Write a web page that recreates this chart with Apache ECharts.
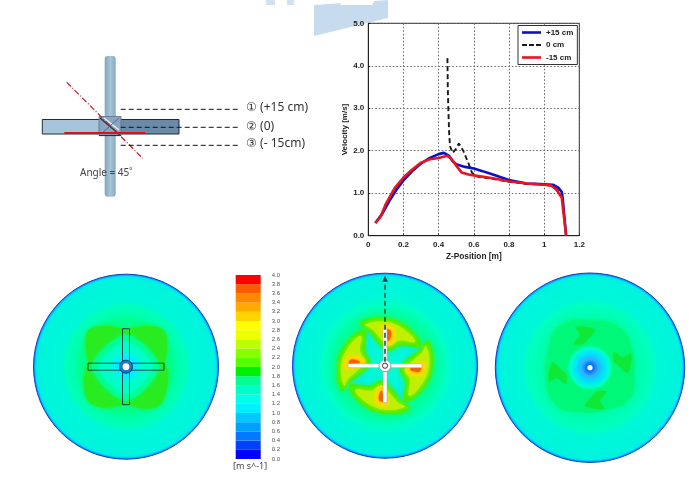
<!DOCTYPE html>
<html>
<head>
<meta charset="utf-8">
<style>html,body{margin:0;padding:0;background:#fff}#c{width:696px;height:502px}</style>
<script src="https://cdn.jsdelivr.net/npm/echarts@6/dist/echarts.min.js"></script>
</head>
<body>
<div id="c"></div>
<script>
// Velocity profiles: [Z-position (m), velocity (m/s)]
const plus15 = [[0.04,0.3],[0.08,0.52],[0.12,0.82],[0.16,1.08],[0.2,1.3],[0.25,1.52],[0.3,1.7],[0.35,1.83],[0.4,1.92],[0.43,1.95],[0.46,1.88],[0.48,1.75],[0.5,1.68],[0.55,1.62],[0.6,1.58],[0.65,1.52],[0.7,1.45],[0.75,1.38],[0.8,1.31],[0.85,1.27],[0.9,1.23],[0.95,1.22],[1.0,1.21],[1.05,1.2],[1.08,1.13],[1.1,1.03],[1.105,0.9],[1.125,0.0]];
const zero = [[0.45,4.18],[0.452,3.5],[0.455,3.0],[0.46,2.4],[0.465,2.1],[0.48,1.95],[0.5,2.05],[0.515,2.17],[0.54,2.0],[0.57,1.7],[0.59,1.48],[0.62,1.39],[0.7,1.34],[0.8,1.27],[0.9,1.22],[1.0,1.2],[1.05,1.17],[1.08,1.05],[1.1,0.9]];
const minus15 = [[0.04,0.3],[0.07,0.45],[0.1,0.75],[0.15,1.12],[0.2,1.37],[0.25,1.56],[0.3,1.72],[0.35,1.8],[0.4,1.83],[0.45,1.88],[0.47,1.82],[0.5,1.65],[0.53,1.49],[0.57,1.44],[0.6,1.42],[0.7,1.36],[0.8,1.28],[0.9,1.23],[1.0,1.2],[1.04,1.18],[1.07,1.08],[1.1,0.9],[1.125,0.0]];
const seriesNames = ['+15 cm', '0 cm', '-15 cm'];
// Colour scale bands, 0.0 upward in 0.2 m/s steps
const bandStep = 0.2;
const bandColors = ['#0000ff','#0040ff','#0078ff','#00a0ff','#00c8ff','#00f0ff','#00ffe8','#00ffc8','#00ff90','#00f000','#55ff00','#88ff00','#bbff00','#eeff00','#ffff00','#ffd500','#ffaa00','#ff8800','#ff5a00','#ff0000'];
// Schematic labels
const stationLabels = ['\u2460 (+15 cm)', '\u2461 (0)', '\u2462 (- 15cm)'];

const F = '"Liberation Sans", Arial, sans-serif';
const G = echarts.graphic;
const disc = (cx, cy, r, stops, stroke) => ({type:'circle', silent:true, shape:{cx, cy, r},
  style:{fill:new G.RadialGradient(0.5,0.5,0.5,stops.map(s=>({offset:s[0],color:s[1]}))),stroke:stroke||null,lineWidth:stroke?1:0}});
const rot = (p,k)=>{let [x,y]=p;for(let i=0;i<k;i++){[x,y]=[-y,x];}return [x,y];};
const blob = (cx,cy,pts,fill,k=0,blur=2,smooth=0.5)=>({type:'polygon',silent:true,
  shape:{points:pts.map(p=>{const q=rot(p,k);return [cx+q[0],cy+q[1]];}),smooth},
  style:{fill,shadowBlur:blur,shadowColor:fill}});
const four = (cx,cy,pts,fill,blur,smooth)=>[0,1,2,3].map(k=>blob(cx,cy,pts,fill,k,blur,smooth));
const rect = (x,y,w,h,style)=>({type:'rect',silent:true,shape:{x,y,width:w,height:h},style});
const line = (x1,y1,x2,y2,stroke,lineWidth,lineDash)=>({type:'line',silent:true,shape:{x1,y1,x2,y2},style:{stroke,lineWidth,lineDash}});
const txt = (x,y,text,fontSize,fill,extra={})=>({type:'text',silent:true,x,y,style:Object.assign({text,fontSize,fill,fontFamily:'"Noto Sans", sans-serif',verticalAlign:'middle'},extra)});

const rim = [[0.97,'#00e4fa'],[0.99,'#0098f0'],[1,'#0038c8']];
const ringStroke='#1040c0';
// --- disc 1
const c1=[126,366.7], R1=92.5;
const lobes1=[[-38,-36],[-20,-41],[-3,-38],[3,-38],[20,-41],[38,-36],[41,-18],[39,-2],[42,3],[41,20],[34,38],[18,42],[3,38],[-4,38],[-22,41],[-38,34],[-42,15],[-40,3],[-38,-3],[-40,-18]];
const diamond1=[[0,-25],[26,0],[0,27],[-27,0]];
const bladeV=(c,l,w,s)=>rect(c[0]-w/2,c[1]-l,w,2*l,s);
const bladeH=(c,l,w,s)=>rect(c[0]-l,c[1]-w/2,2*l,w,s);
const disc1=[
  disc(c1[0],c1[1],R1,[[0,'#00ff90'],[0.5,'#00ff90'],[0.58,'#00ffb4'],[0.64,'#00ffb8'],[0.7,'#00f8d8'],[0.95,'#00f4dc'],...rim],ringStroke),
  blob(c1[0],c1[1],lobes1,'#28ec20',0,4,0.35),
  blob(c1[0],c1[1],[[0,-32],[33,0],[0,34],[-34,0]],'#00ff90',0,4,0.3),
  blob(c1[0],c1[1],diamond1,'#00ffc8',0,4,0.3),
  disc(c1[0],c1[1],17,[[0,'#00e8ff'],[0.6,'#00f0ff'],[1,'#00ffc8']]),
  bladeV(c1,38,7,{fill:'none',stroke:'#0e4a50',lineWidth:1}),
  bladeH(c1,38,7,{fill:'none',stroke:'#0e4a50',lineWidth:1}),
  {type:'circle',silent:true,shape:{cx:c1[0],cy:c1[1],r:6.5},style:{fill:'#1878d0',stroke:'#0e3a70',lineWidth:1}},
  {type:'circle',silent:true,shape:{cx:c1[0],cy:c1[1],r:3.4},style:{fill:'#fff'}}
];
// --- disc 2
const c2=[385,365.7], R2=92.5;
const swirlOuter=[[-25,-43],[-5,-48],[20,-41],[36,-20],[15,-20],[3,-15],[-9,-25],[-16,-35]];
const swirlMid=[[-20,-41],[0,-44],[18,-37],[30,-24],[14,-25],[4,-20],[-6,-29],[-13,-37]];
const swirlCore=[[-3,-40],[9,-37],[9,-25],[3,-20],[-2,-29]];
const swirlHot=[[2,-36],[6,-34],[5,-27],[3,-25]];
const disc2=[
  disc(c2[0],c2[1],R2,[[0,'#00ffc8'],[0.38,'#00f0f0'],[0.48,'#00ffa0'],[0.56,'#00ffa0'],[0.66,'#00ffc4'],[0.74,'#00f8d8'],[0.95,'#00f4dc'],...rim],ringStroke),
  ...four(c2[0],c2[1],swirlOuter,'#48ee00',5,0.4),
  ...four(c2[0],c2[1],swirlMid,'#c0f000',4,0.4),
  ...four(c2[0],c2[1],swirlCore,'#ffd800',3,0.4),
  ...four(c2[0],c2[1],swirlHot,'#f06000',2,0.4),
  bladeH(c2,37,4,{fill:'#fff',stroke:'#a8b090',lineWidth:0.6}),
  bladeV(c2,37,4,{fill:'#fff',stroke:'#a8b090',lineWidth:0.6}),
  {type:'circle',silent:true,shape:{cx:c2[0],cy:c2[1],r:6},style:{fill:'#fff',stroke:'#80a8a0',lineWidth:1}},
  {type:'circle',silent:true,shape:{cx:c2[0],cy:c2[1],r:2.6},style:{fill:'#fff',stroke:'#333',lineWidth:1}},
  line(c2[0],c2[1]-4,c2[0],c2[1]-84,'#14583c',1.6,[5,3]),
  {type:'polygon',silent:true,shape:{points:[[c2[0],c2[1]-90],[c2[0]+3,c2[1]-84],[c2[0]-3,c2[1]-84]]},style:{fill:'#14485a'}}
];
// --- disc 3
const c3=[590,367.7], R3=94.7;
const chevron=[[-16,-24],[-10,-33],[-14,-41],[5,-38],[-2,-29],[-7,-24]];
const field3=[[-30,-42],[5,-47],[30,-40],[42,-18],[44,8],[40,30],[15,42],[-15,44],[-35,36],[-44,12],[-42,-15]];
const disc3=[
  disc(c3[0],c3[1],R3,[[0,'#00ffb0'],[0.56,'#00ffb4'],[0.66,'#00ffc0'],[0.72,'#00f8d8'],[0.95,'#00f4dc'],...rim],ringStroke),
  blob(c3[0],c3[1],field3,'#00f878',0,6,0.5),
  ...four(c3[0],c3[1],chevron,'#10e838',2,0.3),
  disc(c3[0],c3[1],23,[[0,'#0050f0'],[0.15,'#0070ff'],[0.36,'#30b0ff'],[0.6,'#00e0ff'],[0.85,'#00ffd0'],[1,'#00f878']]),
  {type:'circle',silent:true,shape:{cx:c3[0],cy:c3[1],r:2.6},style:{fill:'#fff'}}
];
// --- schematic and background mark
const mark=[
  {type:'polygon',silent:true,z:-5,shape:{points:[[314,5],[388,0],[388,18],[314,36]]},style:{fill:'#c6dcee'}},
  {type:'polygon',silent:true,z:-4,shape:{points:[[344,0],[375,0],[372,5],[340,5]]},style:{fill:'#fff'}},
  rect(266,0,9,5,{fill:'#d2e2f0'}), rect(287,0,7,5,{fill:'#d2e2f0'})
];
const schem=[
  rect(42.3,119.5,67,14.5,{fill:'#a6c4da',stroke:'#1e2c3c',lineWidth:1}),
  rect(120,119.5,59,14.5,{fill:'#6a8aa8',stroke:'#1c2a3c',lineWidth:1}),
  {type:'rect',silent:true,shape:{x:104.7,y:56,width:11,height:140.7,r:3},style:{fill:new G.LinearGradient(0,0,1,0,[{offset:0,color:'#7fa4c0'},{offset:0.5,color:'#a8c4d8'},{offset:1,color:'#86aac4'}])}},
  rect(99,116.5,22,19,{fill:'#8aa6be',stroke:'#5a7088',lineWidth:0.8}),
  line(100,118,120,135,'#283848',1.5), line(104,118,119,130,'#e8eef4',1.5), line(119,118,101,134,'#465a70',0.8),
  line(99,135.5,121,135.5,'#223040',1.2),
  line(64.3,133,145,133,'#e01018',2.2),
  line(66.7,82.3,142.7,158.3,'#c81828',1.2,[6,2,1,2]),
  line(120.7,109.3,238,109.3,'#111',1,[5,3]),
  line(120.7,127.3,238,127.3,'#111',1,[5,3]),
  line(120.7,145.3,238,145.3,'#111',1,[5,3]),
  txt(246,108,stationLabels[0],12,'#333'),
  txt(246,126.5,stationLabels[1],12,'#333'),
  txt(246,144,stationLabels[2],12,'#333'),
  txt(80,172.7,'Angle = 45\u02da',10,'#444'),
  txt(233,466.5,'[m s^-1]',9,'#444')
];

const lineSeries=[[plus15,'#0a10c8',2.6,'solid'],[zero,'#1a1a1a',1.9,[5,3]],[minus15,'#e8141e',2.6,'solid']].map((s,i)=>({
  type:'line',name:seriesNames[i],xAxisIndex:0,yAxisIndex:0,data:s[0],symbol:'none',z:3+i,
  lineStyle:{color:s[1],width:s[2],type:s[3]},itemStyle:{color:s[1]}}));
const bandSeries=bandColors.map(c=>({type:'bar',stack:'scale',xAxisIndex:1,yAxisIndex:1,data:[bandStep],barWidth:'100%',itemStyle:{color:c},silent:true,animation:false}));
const tickStyle={fontFamily:F,fontWeight:'bold',fontSize:8,color:'#222'};
const dotted={show:true,lineStyle:{type:[1.5,2],color:'#666',width:1}};
const solidIcon='path://M0 0H19V2.6H0Z';
const dashIcon='path://M0 0H5V2H0ZM7 0H12V2H7ZM14 0H19V2H14Z';

const chart=echarts.init(document.getElementById('c'),null,{renderer:'canvas'});
chart.setOption({
  animation:false,backgroundColor:'#fff',
  grid:[{left:368.3,top:23.3,width:211,height:212.4,show:true,borderColor:'#222',borderWidth:1},
        {left:235.7,top:275,width:25,height:184}],
  xAxis:[{type:'value',gridIndex:0,min:0,max:1.2,interval:0.2,name:'Z-Position [m]',nameLocation:'middle',nameGap:17,
          nameTextStyle:Object.assign({},tickStyle,{fontSize:8.3}),axisLabel:Object.assign({margin:5},tickStyle),axisTick:{inside:true,length:2,lineStyle:{color:'#222'}},
          axisLine:{lineStyle:{color:'#222'}},splitLine:dotted},
         {type:'category',gridIndex:1,data:[''],show:false}],
  yAxis:[{type:'value',gridIndex:0,min:0,max:5,interval:1,name:'Velocity [m/s]',nameLocation:'middle',nameGap:20,
          nameTextStyle:tickStyle,axisLabel:Object.assign({margin:4,formatter:v=>v.toFixed(1)},tickStyle),axisTick:{inside:true,length:2,lineStyle:{color:'#222'}},
          axisLine:{lineStyle:{color:'#222'}},splitLine:dotted},
         {type:'value',gridIndex:1,min:0,max:4,interval:bandStep,position:'right',axisLine:{show:false},axisTick:{show:false},splitLine:{show:false},
          axisLabel:{show:true,margin:11,fontSize:6,color:'#555',fontFamily:F,formatter:v=>v.toFixed(1)}}],
  legend:{data:[{name:seriesNames[0],icon:solidIcon},{name:seriesNames[1],icon:dashIcon},{name:seriesNames[2],icon:solidIcon}],
    orient:'vertical',left:518,top:25.5,width:60,itemWidth:19,itemHeight:8,itemGap:4.5,padding:[3,4,3,4],
    backgroundColor:'#fff',borderColor:'#333',borderWidth:1,z:10,
    textStyle:{fontFamily:F,fontWeight:'bold',fontSize:8,color:'#222',width:29,align:'right',padding:[0,0,0,0]}},
  series:[...lineSeries,...bandSeries],
  graphic:{elements:[...mark,...schem,...disc1,...disc2,...disc3]}
});
</script>
</body>
</html>
